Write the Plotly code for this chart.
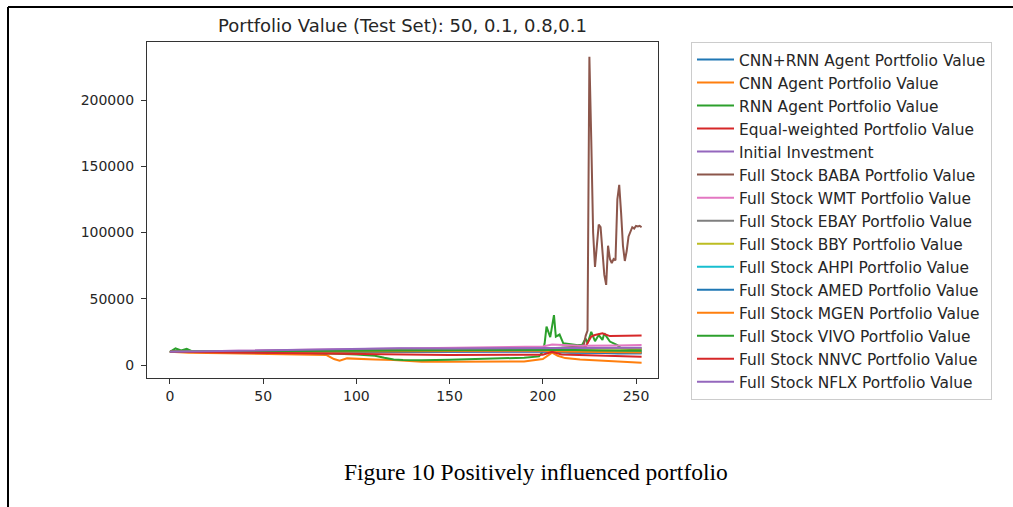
import plotly.graph_objects as go

# ---------------- data ----------------
x_cnnrnn = [0, 20, 50, 80, 100, 130, 160, 190, 200, 205, 215, 230, 240, 253]
y_cnnrnn = [10000, 10200, 10400, 10300, 10600, 10800, 11000, 11200, 11500, 10800, 9500, 9200, 8700, 8800]

x_cnn = [0, 10, 30, 50, 70, 84, 88, 91, 95, 100, 110, 120, 135, 150, 170, 190, 200, 203, 205, 208, 212, 220, 235, 253]
y_cnn = [10000, 9300, 8800, 8300, 8000, 7500, 4500, 3200, 5000, 4600, 4200, 3800, 2500, 2400, 2300, 2600, 4500, 7000, 9300, 7000, 5200, 4200, 3300, 1700]

x_rnn = [0, 3, 6, 9, 12, 20, 40, 60, 80, 90, 100, 110, 115, 120, 125, 135, 150, 165, 180, 190, 198, 200,
         201, 202, 204, 206, 207, 209, 211, 215, 219, 221, 223, 224, 226, 228, 230, 232, 233, 236, 240, 242, 247, 253]
y_rnn = [10000, 12500, 11000, 12300, 10200, 10000, 9800, 9600, 9200, 8500, 8000, 7000, 5500, 4200, 3800, 3500, 4000, 4500, 5000, 5500, 6500, 10000,
         16400, 28900, 21000, 37700, 21400, 23000, 16400, 15500, 15000, 15000, 20000, 16400, 25000, 18000, 22600, 18900, 23900, 17700, 15000, 12600, 11800, 11300]

x_equal = [0, 30, 60, 100, 150, 190, 200, 205, 210, 220, 223, 226, 228, 232, 236, 240, 245, 250, 253]
y_equal = [10000, 9800, 9700, 9900, 10300, 10800, 11500, 12500, 12000, 12500, 14000, 21500, 22600, 23900, 21800, 21900, 22000, 22600, 22300]

x_initial = [0, 253]
y_initial = [10000, 10000]

x_baba = [0, 50, 100, 150, 200, 210, 220, 222, 223, 224, 225, 226, 227, 228, 229, 230, 231, 232, 233, 234, 235, 236, 237,
          238, 239, 240, 241, 242, 243, 244, 245, 246, 247, 248, 249, 250, 251, 252, 253]
y_baba = [10000, 10500, 11000, 11500, 12500, 13000, 14000, 15000, 22000, 26000, 232700, 170000, 100000, 74000, 92000, 106000, 104000, 85000, 68000, 60500, 90000, 80000, 77000,
          80000, 79000, 125000, 136000, 115000, 90000, 78500, 86000, 97000, 100000, 104000, 103000, 105000, 104500, 105000, 104000]

x_wmt = [0, 50, 100, 150, 200, 205, 220, 240, 253]
y_wmt = [10000, 11000, 12500, 13000, 14000, 15500, 14500, 14800, 15100]

x_ebay = [0, 50, 100, 150, 200, 210, 230, 253]
y_ebay = [10000, 10800, 11500, 12000, 12500, 13000, 12800, 12600]

x_bby = [0, 50, 100, 150, 200, 220, 240, 253]
y_bby = [10000, 10300, 10500, 11000, 12000, 12200, 12600, 12500]

x_ahpi = [0, 50, 100, 150, 200, 205, 220, 240, 253]
y_ahpi = [10000, 10400, 10500, 10800, 11000, 10500, 10200, 9900, 9800]

x_amed = [0, 50, 100, 150, 200, 210, 230, 253]
y_amed = [10000, 9600, 9800, 10000, 10200, 9500, 9000, 8800]

x_mgen = [0, 50, 100, 150, 200, 210, 230, 253]
y_mgen = [10000, 9800, 10200, 10500, 10800, 10200, 9800, 9500]

x_vivo = [0, 50, 100, 150, 200, 210, 230, 253]
y_vivo = [10000, 10400, 10800, 11000, 11200, 11500, 11000, 10800]

x_nnvc = [0, 50, 80, 100, 150, 200, 205, 210, 230, 253]
y_nnvc = [10000, 9000, 8800, 8000, 7500, 7800, 10000, 8000, 7000, 6300]

x_nflx = [0, 50, 100, 123, 150, 200, 253]
y_nflx = [10000, 11000, 12000, 12600, 12500, 13000, 13000]

names = ["CNN+RNN Agent Portfolio Value", "CNN Agent Portfolio Value", "RNN Agent Portfolio Value",
         "Equal-weighted Portfolio Value", "Initial Investment", "Full Stock BABA Portfolio Value",
         "Full Stock WMT Portfolio Value", "Full Stock EBAY Portfolio Value", "Full Stock BBY Portfolio Value",
         "Full Stock AHPI Portfolio Value", "Full Stock AMED Portfolio Value", "Full Stock MGEN Portfolio Value",
         "Full Stock VIVO Portfolio Value", "Full Stock NNVC Portfolio Value", "Full Stock NFLX Portfolio Value"]

xs = [x_cnnrnn, x_cnn, x_rnn, x_equal, x_initial, x_baba, x_wmt, x_ebay, x_bby, x_ahpi, x_amed, x_mgen, x_vivo, x_nnvc, x_nflx]
ys = [y_cnnrnn, y_cnn, y_rnn, y_equal, y_initial, y_baba, y_wmt, y_ebay, y_bby, y_ahpi, y_amed, y_mgen, y_vivo, y_nnvc, y_nflx]

colors = ["#1f77b4", "#ff7f0e", "#2ca02c", "#d62728", "#9467bd", "#8c564b", "#e377c2", "#7f7f7f",
          "#bcbd22", "#17becf", "#1f77b4", "#ff7f0e", "#2ca02c", "#d62728", "#9467bd"]

x_ticks = [0, 50, 100, 150, 200, 250]
y_ticks = [0, 50000, 100000, 150000, 200000]

title_text = "Portfolio Value (Test Set): 50, 0.1, 0.8,0.1"
caption_text = "Figure 10 Positively influenced portfolio"

# ---------------- figure ----------------
W, H = 1013, 507
ML, MR, MT, MB = 147, 355, 42, 129
PW, PH = W - ML - MR, H - MT - MB


def px(xp):
    return (xp - ML) / PW


def py(yp):
    return (H - MB - yp) / PH


fig = go.Figure()
for xv, yv, n, c in zip(xs, ys, names, colors):
    fig.add_trace(go.Scatter(x=xv, y=yv, mode="lines", name=n,
                             line=dict(color=c, width=2)))

txt = "#262626"
fig.update_layout(
    width=W, height=H,
    margin=dict(l=ML, r=MR, t=MT, b=MB, pad=0),
    paper_bgcolor="white", plot_bgcolor="white",
    font=dict(family="DejaVu Sans", size=14, color=txt),
    showlegend=True,
    title=dict(text=title_text, x=px(402.5), xref="paper", xanchor="center",
               y=1 - 26 / H, yref="container", yanchor="middle",
               font=dict(family="DejaVu Sans", size=18, color=txt)),
    legend=dict(x=px(691), y=1.0, xanchor="left", yanchor="top",
                bordercolor="#cccccc", borderwidth=1, bgcolor="white",
                font=dict(family="DejaVu Sans", size=15.4, color=txt),
                itemwidth=37, tracegroupgap=0, maxheight=420),
    xaxis=dict(range=[-12.3, 261.8], tickvals=x_ticks, ticks="outside", ticklen=5,
               tickcolor="#333", showline=True, linecolor="#333", linewidth=1.2,
               mirror=True, showgrid=False, zeroline=False),
    yaxis=dict(range=[-9811, 243770], tickvals=y_ticks, tickformat="d", ticks="outside", ticklen=5,
               tickcolor="#333", showline=True, linecolor="#333", linewidth=1.2,
               mirror=True, showgrid=False, zeroline=False, ticklabelstandoff=4),
)

# caption
fig.add_annotation(text=caption_text, x=px(535.5), y=py(472), xref="paper", yref="paper",
                   showarrow=False, xanchor="center", yanchor="middle",
                   font=dict(family="Liberation Serif", size=23.5, color="black"))

# document border (top and left)
fig.add_shape(type="line", xref="paper", yref="paper", x0=px(8), x1=px(1013), y0=py(7), y1=py(7),
              line=dict(color="black", width=2))
fig.add_shape(type="line", xref="paper", yref="paper", x0=px(8), x1=px(8), y0=py(7), y1=py(507),
              line=dict(color="black", width=2))

fig.write_html("out.html")
